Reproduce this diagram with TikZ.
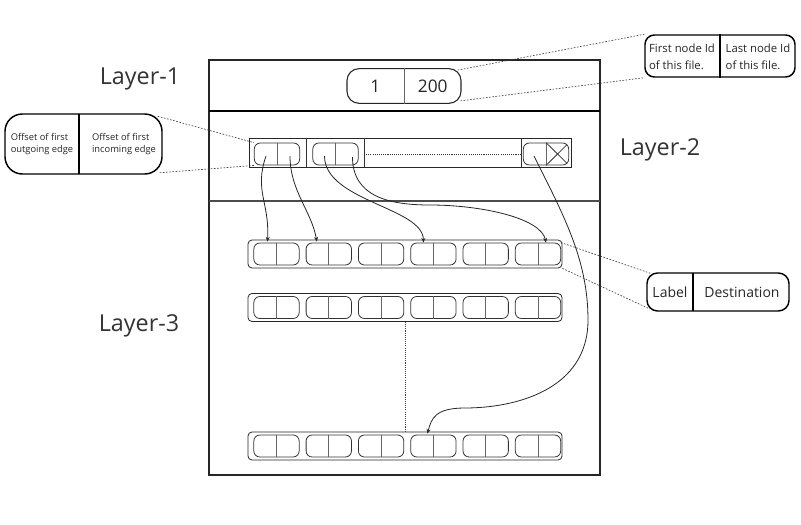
\documentclass[tikz,border=0pt]{standalone}
\usepackage{fontspec}
\setmainfont{Open Sans}
\usetikzlibrary{calc,positioning,arrows.meta}

\tikzset{
  layerline/.style={draw=black!85,line width=1.1pt},
  layerlabel/.style={font=\fontsize{17.5}{20}\selectfont,text=black!80},
  cellbox/.style={draw=black!80,line width=.6pt,rounded corners=4.5pt,minimum width=34pt,minimum height=16.5pt,inner sep=0pt},
  celldiv/.style={draw=black!60,line width=.6pt},
  rowbox/.style={draw=black!85,line width=.6pt,rounded corners=3pt,minimum width=235.5pt,minimum height=21pt,inner sep=0pt},
  notebox/.style={draw=black,line width=1.1pt,inner sep=0pt},
  noteline/.style={draw=black!75,line width=.5pt,dash pattern=on 1.2pt off 1.2pt},
  link/.style={draw=black!85,line width=.6pt,-{Stealth[length=3.5pt,width=3pt]}}
}

\begin{document}
\begin{tikzpicture}[x=.75pt,y=-.75pt]
  \useasboundingbox (0,0) rectangle (801,525);

  % layers
  \draw[layerline] (209,60) rectangle (600,475);
  \draw[draw=black,line width=1.5pt] (209,111) -- (600,111);
  \draw[draw=black!70,line width=1.5pt] (209,201) -- (600,201);
  \node[layerlabel] (lab1) at (140,79) {Layer-1};
  \node[layerlabel] (lab2) at (660,150) {Layer-2};
  \node[layerlabel] (lab3) at (139,326) {Layer-3};

  % layer 1: id range
  \node[draw=black!85,line width=.8pt,rounded corners=9pt,minimum width=85.5pt,minimum height=26pt] (ids) at (404,86) {};
  \draw[celldiv] (ids.north) -- (ids.south);
  \node[font=\fontsize{13}{15}\selectfont,text=black!85] (first) at ($(ids.center)!.5!(ids.west)$) {1};
  \node[font=\fontsize{13}{15}\selectfont,text=black!85] (last) at ($(ids.center)!.5!(ids.east)$) {200};

  \node[notebox,rounded corners=7pt,minimum width=112.5pt,minimum height=31.5pt] (idnote) at (720,56) {};
  \draw[line width=1pt] (idnote.north) -- (idnote.south);
  \node[font=\fontsize{8.5}{12.5}\selectfont,align=left,text=black!85] at (682,57) {First node Id\\of this file.};
  \node[font=\fontsize{8.5}{12.5}\selectfont,align=left,text=black!85] at (758,57) {Last node Id\\of this file.};
  \draw[noteline] ($(ids.north east)+(-4,2)$) -- (idnote.north west);
  \draw[noteline] ($(ids.south east)+(-1,-3)$) -- (idnote.south west);

  % layer 2: offsets
  \node[draw=black!85,line width=.6pt,minimum width=241.5pt,minimum height=21.75pt,inner sep=0pt] (rec) at (410,152.5) {};
  \draw[celldiv,draw=black!80] (306,138) -- (306,167);
  \draw[celldiv,draw=black!80] (364,138) -- (364,167);
  \draw[celldiv,draw=black!80] (521,138) -- (521,167);
  \node[cellbox] (ca) at (277,154) {};
  \node[cellbox] (cb) at (335.5,154) {};
  \node[cellbox] (cz) at (546,154) {};
  \draw[celldiv] (ca.north) -- (ca.south);
  \draw[celldiv] (cb.north) -- (cb.south);
  \draw[celldiv] (cz.north) -- (cz.south);
  \draw[celldiv,draw=black!80] (cz.north) -- ($(cz.south east)+(-2,-2)$);
  \draw[celldiv,draw=black!80] (cz.south) -- ($(cz.north east)+(-2,2)$);
  \draw[draw=black!80,line width=.5pt,dash pattern=on .8pt off .8pt] (364,154) -- (521,154);

  \node[notebox,rounded corners=13pt,minimum width=117.75pt,minimum height=45pt] (offnote) at (83.5,144) {};
  \draw[line width=1pt] (79,114) -- (79,174);
  \node[font=\fontsize{7}{9}\selectfont,align=left,text=black!85] at (42,144) {Offset of first\\outgoing edge};
  \node[font=\fontsize{7}{9}\selectfont,align=left,text=black!85] at (124,144) {Offset of first\\incoming edge};
  \draw[noteline] ($(offnote.north east)+(-5,3)$) -- (ca.north west);
  \draw[noteline] ($(offnote.south east)+(-3,-2)$) -- (ca.south west);

  % layer 3: edge arrays
  \foreach \ri/\yy in {1/254,2/307.5,3/446}{
    \node[rowbox] (row\ri) at (405,\yy) {};
    \foreach \ci in {1,...,6}{
      \node[cellbox] (r\ri-\ci) at ({276.5+52.3*(\ci-1)},\yy) {};
      \draw[celldiv] (r\ri-\ci.north) -- (r\ri-\ci.south);
    }
  }
  \draw[draw=black!75,line width=.5pt,dash pattern=on .8pt off .8pt] (row2.south) -- (row3.north);

  \node[notebox,rounded corners=8pt,minimum width=106.5pt,minimum height=28.5pt] (edgenote) at (718,292) {};
  \draw[line width=1pt] (693,273) -- (693,311);
  \node[font=\fontsize{10.5}{12}\selectfont,text=black!85] at (670,292) {Label};
  \node[font=\fontsize{10.5}{12}\selectfont,text=black!85] at (742,292) {Destination};
  \draw[noteline] (r1-6.north east) -- ($(edgenote.north west)+(4,1)$);
  \draw[noteline] (row1.south east) -- ($(edgenote.south west)+(3,-3)$);

  % links
  \draw[link] ($(ca.center)+(-11,2)$) .. controls +(-12,35) and +(2,-40) .. ($(r1-1.north)+(-9,-1)$);
  \draw[link] ($(ca.center)+(13,2)$) .. controls +(0,35) and +(-5,-30) .. ($(r1-2.north)+(-12,-1)$);
  \draw[link] ($(cb.center)+(-11,2)$) .. controls +(0,45) and +(0,-35) .. ($(r1-4.north)+(-10,0)$);
  \draw[link] ($(cb.center)+(17,3)$) .. controls +(0,40) and +(-40,0) .. (430,205)
    .. controls +(50,0) and +(-5,-25) .. ($(r1-6.north)+(8,0)$);
  \draw[link] ($(cz.center)+(-12,2)$) .. controls +(30,60) and +(0,-60) .. (588,320)
    .. controls +(0,70) and +(50,0) .. (465,408)
    .. controls +(-30,0) and +(4,-15) .. ($(r3-4.north)+(-6,-1)$);
\end{tikzpicture}
\end{document}
